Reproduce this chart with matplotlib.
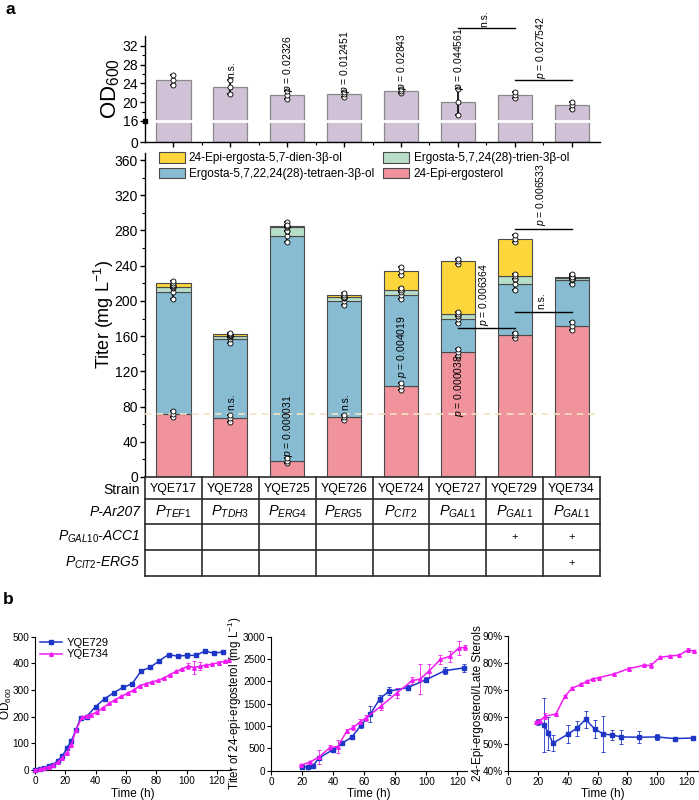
import numpy as np
import matplotlib
matplotlib.use('Agg')
import matplotlib.pyplot as plt
from matplotlib.lines import Line2D
from matplotlib.ticker import MultipleLocator, FixedLocator, PercentFormatter, NullFormatter

plt.rcParams['font.family'] = ['Liberation Sans', 'DejaVu Sans']
plt.rcParams['mathtext.fontset'] = 'custom'
plt.rcParams['mathtext.rm'] = 'Liberation Sans'
plt.rcParams['mathtext.it'] = 'Liberation Sans:italic'
plt.rcParams['mathtext.bf'] = 'Liberation Sans:bold'
plt.rcParams['axes.linewidth'] = 1.0

# ---------------- data (panel a) ----------------
strains = ['YQE717', 'YQE728', 'YQE725', 'YQE726', 'YQE724', 'YQE727', 'YQE729', 'YQE734']
promoters = ['TEF1', 'TDH3', 'ERG4', 'ERG5', 'CIT2', 'GAL1', 'GAL1', 'GAL1']
acc1 = ['', '', '', '', '', '', '+', '+']
erg5 = ['', '', '', '', '', '', '', '+']

od600 = [24.7, 23.2, 21.5, 21.7, 22.4, 20.0, 21.5, 19.3]
od600_err = [1.1, 1.5, 0.8, 0.5, 0.4, 2.8, 0.6, 0.7]
od_notes = ['', 'n.s.', 'p = 0.02326', 'p = 0.012451', 'p = 0.02843', 'p = 0.044561', '', '']

epi_ergosterol = [71.5, 66.6, 18.5, 67.8, 103.0, 141.6, 161.0, 171.5]
tetraen = [138.2, 89.8, 254.8, 131.7, 103.7, 37.4, 57.8, 52.2]
trien = [6.5, 3.6, 10.9, 4.5, 5.7, 6.0, 9.2, 1.9]
dien = [4.0, 2.8, 0.6, 3.0, 21.6, 60.0, 42.6, 1.9]
epi_ergosterol_err = [3, 4, 3, 3, 4, 4, 3, 4]
tetraen_err = [7, 4, 6, 4, 4, 4, 6, 5]
trien_err = [1, 1, 5, 1, 2, 2, 3, 1]
dien_err = [2, 1, 1, 2, 5, 3, 4, 3]

titer_notes = [(1, 'n.s.', 76), (2, 'p = 0.000031', 22.5), (3, 'n.s.', 76),
               (4, 'p = 0.004019', 112), (5, 'p = 0.000038', 68)]
titer_brackets = [(5, 6, 169, 'p = 0.006364'), (6, 7, 187.7, 'n.s.'), (6, 7, 281.6, 'p = 0.006533')]
od_brackets = [(5, 6, 35.9, 'n.s.'), (6, 7, 24.75, 'p = 0.027542')]

# ---------------- data (panel b) ----------------
od_t_729 = [0, 3, 6, 9, 12, 15, 18, 21, 24, 27, 30, 34, 40, 46, 52, 58, 64, 70, 76, 82, 88, 94, 100, 106, 112, 118, 124]
od_729 = [0, 4, 9, 14, 20, 35, 52, 82, 110, 150, 195, 200, 238, 268, 290, 310, 323, 372, 385, 410, 433, 427, 430, 430, 446, 438, 443]
od_err_729 = [0, 1, 1, 1, 1, 2, 2, 3, 3, 3, 3, 3, 3, 3, 3, 3, 3, 5, 5, 3, 3, 4, 10, 8, 5, 5, 6]
od_t_734 = [0, 3, 6, 9, 12, 15, 18, 21, 24, 27, 31, 34, 37, 41, 45, 49, 53, 57, 61, 65, 69, 73, 77, 81, 85, 89, 93, 97, 101, 105, 109, 113, 117, 121, 125, 128]
od_734 = [0, 3, 7, 12, 18, 30, 45, 65, 95, 150, 198, 203, 208, 218, 234, 250, 264, 276, 288, 300, 316, 324, 330, 336, 345, 358, 370, 379, 390, 384, 390, 393, 397, 403, 407, 411]
od_err_734 = [0, 1, 1, 1, 1, 2, 2, 3, 3, 3, 3, 3, 3, 3, 3, 3, 3, 3, 3, 3, 3, 3, 3, 3, 3, 3, 3, 5, 10, 25, 14, 5, 5, 5, 5, 5]

titer_t_729 = [20, 24, 27, 31, 40, 46, 52, 58, 64, 70, 76, 88, 100, 112, 124]
titer_729 = [80, 90, 110, 290, 470, 620, 750, 1020, 1270, 1610, 1780, 1860, 2040, 2240, 2300]
titer_err_729 = [10, 10, 10, 30, 40, 40, 30, 60, 180, 80, 90, 60, 60, 80, 90]
titer_t_734 = [19, 25, 31, 38, 43, 49, 53, 57, 61, 71, 81, 91, 96, 102, 109, 115, 121, 125]
titer_734 = [120, 190, 310, 520, 540, 900, 970, 1080, 1180, 1450, 1740, 2020, 2050, 2240, 2490, 2560, 2750, 2760]
titer_err_734 = [20, 30, 150, 50, 150, 30, 60, 80, 60, 100, 120, 80, 330, 150, 100, 120, 150, 50]

ratio_t_729 = [20, 24, 27, 30, 40, 46, 52, 58, 64, 70, 76, 88, 100, 112, 124]
ratio_729 = [58.0, 57.0, 53.8, 50.2, 53.5, 55.7, 59.0, 55.5, 53.6, 53.2, 52.5, 52.4, 52.5, 51.9, 52.1]
ratio_err_729 = [1, 10, 6, 3, 3.3, 2.8, 3, 3.3, 6.7, 2, 2.5, 2.3, 1.2, 0.5, 0.5]
ratio_t_734 = [18.5, 21, 25, 32, 38, 43, 49, 53, 57, 61, 71, 81, 91, 96, 102, 109, 115, 121, 125]
ratio_734 = [58.0, 58.5, 60.2, 61.0, 67.5, 70.6, 72.0, 73.1, 74.0, 74.5, 75.8, 77.8, 79.0, 79.0, 82.0, 82.5, 82.8, 84.8, 84.3]
ratio_err_734 = [0.5, 0.5, 1, 0.5, 0.5, 0.5, 0.5, 0.5, 0.5, 0.3, 0.3, 0.5, 0.5, 1, 0.5, 0.5, 0.5, 0.5, 0.3]

# ---------------- styling ----------------
C_YEL = '#FCD63A'
C_BLU = '#88BCD2'
C_GRN = '#B6DEC9'
C_PNK = '#F0939D'
C_OD = '#D0C1D6'
C_729 = '#1E36C8'
C_734 = '#F21CF2'

W, H = 699, 800
fig = plt.figure(figsize=(W / 100, H / 100), dpi=100)


def box(l, t, r, b):
    return [l / W, 1 - b / H, (r - l) / W, (b - t) / H]


def ptxt(s):
    if s.startswith('p'):
        return r'$\mathit{p}$' + s[1:]
    return s


n = len(strains)
x = np.arange(n)
XL = (-0.5, n - 0.5)

# ================= OD panel (broken axis) =================
ax1 = fig.add_axes(box(145, 36, 600, 142))
A = 0.28


def fwd(v):
    v = np.asarray(v, float)
    return np.where(v < 16, v * A, 16 * A + (v - 16))


def inv(t):
    t = np.asarray(t, float)
    return np.where(t < 16 * A, t / A, t - 16 * A + 16)


ax1.set_yscale('function', functions=(fwd, inv))
ax1.bar(x, od600, 0.6, color=C_OD, edgecolor='#8a8a8a', linewidth=0.9, zorder=2)
ax1.axhline(16, color='white', lw=2, zorder=3)
ax1.errorbar(x, od600, yerr=od600_err, fmt='none', ecolor='k', elinewidth=1.2,
             capsize=2.5, capthick=1.2, zorder=4)
od_a = np.array(od600)
od_e = np.array(od600_err)
for k in (-1, 0, 1):
    ax1.plot(x, od_a + k * od_e, 'o', ms=3.6, mfc='white', mec='k', mew=0.6, zorder=5,
             linestyle='none')
ax1.set_xlim(*XL)
ax1.set_ylim(0, 34.1)
ax1.yaxis.set_major_locator(FixedLocator([0, 16, 20, 24, 28, 32]))
ax1.yaxis.set_minor_locator(FixedLocator([18, 22, 26, 30]))
ax1.yaxis.set_minor_formatter(NullFormatter())
ax1.xaxis.set_major_locator(FixedLocator(x))
ax1.xaxis.set_minor_locator(FixedLocator(x[:-1] + 0.5))
ax1.set_xticklabels([])
ax1.tick_params(axis='both', which='major', direction='out', length=3.5, width=1,
                labelsize=10, pad=1.5)
ax1.tick_params(axis='both', which='minor', direction='out', length=2, width=0.8)
for s in ('top', 'right'):
    ax1.spines[s].set_visible(False)
ax1.plot([0], [16], marker='s', color='k', ms=3.5, transform=ax1.get_yaxis_transform(),
         clip_on=False, zorder=6)
ax1.set_ylabel('OD$_{600}$', fontsize=16)
ax1.yaxis.set_label_coords(-0.051, 0.5)
for i, s in enumerate(od_notes):
    if s:
        off = 0.35 if s == 'n.s.' else -0.2
        ax1.text(x[i] + 0.02, od600[i] + od600_err[i] + off, ptxt(s), rotation=90,
                 ha='center', va='bottom', fontsize=7.5, zorder=7, clip_on=False)
for i0, i1, yb, s in od_brackets:
    ax1.plot([x[i0], x[i1]], [yb, yb], color='k', lw=1.0, clip_on=False, zorder=6)
    ax1.text((x[i0] + x[i1]) / 2 - 0.03, yb + 0.15, ptxt(s), rotation=90, ha='center',
             va='bottom', fontsize=7.5, clip_on=False)

# ================= Stacked titer panel =================
ax2 = fig.add_axes(box(145, 153, 600, 477))
layers = [
    (epi_ergosterol, epi_ergosterol_err, C_PNK, '24-Epi-ergosterol'),
    (tetraen, tetraen_err, C_BLU, 'Ergosta-5,7,22,24(28)-tetraen-3\u03b2-ol'),
    (trien, trien_err, C_GRN, 'Ergosta-5,7,24(28)-trien-3\u03b2-ol'),
    (dien, dien_err, C_YEL, '24-Epi-ergosta-5,7-dien-3\u03b2-ol'),
]
bottoms = np.zeros(n)
handles = {}
for vals, errs, col, lab in layers:
    vals = np.array(vals)
    errs = np.array(errs)
    b = ax2.bar(x, vals, 0.6, bottom=bottoms, color=col, edgecolor='#4a4a4a',
                linewidth=0.8, label=lab, zorder=2)
    handles[lab] = b
    tops = bottoms + vals
    ax2.errorbar(x, tops, yerr=errs, fmt='none', ecolor='k', elinewidth=1.2,
                 capsize=2.5, capthick=1.2, zorder=4)
    for k in (-1, 0, 1):
        ax2.plot(x, tops + k * errs, 'o', ms=3.6, mfc='white', mec='k', mew=0.6,
                 zorder=5, linestyle='none')
    bottoms = tops
ax2.axhline(epi_ergosterol[0], color='#F3E3C3', lw=1.2, ls=(0, (4, 3)), zorder=3)
ax2.set_xlim(*XL)
ax2.set_ylim(0, 368)
ax2.yaxis.set_major_locator(MultipleLocator(40))
ax2.yaxis.set_minor_locator(MultipleLocator(20))
ax2.set_xticks([])
ax2.tick_params(axis='y', which='major', direction='out', length=3.5, width=1,
                labelsize=10, pad=1.5)
ax2.tick_params(axis='y', which='minor', direction='out', length=2, width=0.8)
for s in ('top', 'right', 'bottom'):
    ax2.spines[s].set_visible(False)
ax2.set_ylabel('Titer (mg L$^{-1}$)', fontsize=13)
ax2.yaxis.set_label_coords(-0.063, 0.5)
order = ['24-Epi-ergosta-5,7-dien-3\u03b2-ol', 'Ergosta-5,7,22,24(28)-tetraen-3\u03b2-ol',
         'Ergosta-5,7,24(28)-trien-3\u03b2-ol', '24-Epi-ergosterol']
ax2.legend([handles[k] for k in order], order, ncol=2, loc='upper left',
           bbox_to_anchor=(0.03, 1.003), frameon=False, fontsize=8.5, handlelength=2.2,
           handleheight=1.0, handletextpad=0.35, columnspacing=0.8, borderpad=0,
           borderaxespad=0, labelspacing=0.3)
for i, s, yv in titer_notes:
    ax2.text(x[i] + 0.02, yv, ptxt(s), rotation=90, ha='center', va='bottom',
             fontsize=7.5, zorder=7)
for i0, i1, yb, s in titer_brackets:
    ax2.plot([x[i0], x[i1]], [yb, yb], color='k', lw=1.0, zorder=6)
    ax2.text((x[i0] + x[i1]) / 2 - 0.04, yb + 3, ptxt(s), rotation=90, ha='center',
             va='bottom', fontsize=7.5, zorder=7)

# ================= Table =================
axt = fig.add_axes(box(145, 477, 600, 576))
axt.set_xlim(*XL)
axt.set_ylim(99, 0)
axt.axis('off')
row_edges = [0, 22.3, 47.3, 73, 98.7]
row_mid = [(row_edges[i] + row_edges[i + 1]) / 2 for i in range(4)]
for yv in row_edges:
    axt.plot(XL, [yv, yv], color='#2b2b2b', lw=1.2, clip_on=False, solid_capstyle='projecting')
for xv in np.arange(n + 1) - 0.5:
    axt.plot([xv, xv], [row_edges[0], row_edges[-1]], color='#2b2b2b', lw=1.2, clip_on=False)
row_labels = ['Strain', 'P-Ar207', r'$\mathit{P}_{\mathit{GAL10}}$-ACC1',
              r'$\mathit{P}_{\mathit{CIT2}}$-ERG5']
for r, lab in enumerate(row_labels):
    axt.text(-0.585, row_mid[r] + (2.0 if r == 0 else 0), lab, ha='right', va='center',
             fontsize=10, fontstyle='normal' if r == 0 else 'italic')
for i in range(n):
    axt.text(x[i], row_mid[0] + 0.8, strains[i], ha='center', va='center', fontsize=8.9)
    axt.text(x[i], row_mid[1], r'$\mathit{P}_{\mathit{%s}}$' % promoters[i], ha='center',
             va='center', fontsize=10.5)
    axt.text(x[i], row_mid[2], acc1[i], ha='center', va='center', fontsize=8)
    axt.text(x[i], row_mid[3], erg5[i], ha='center', va='center', fontsize=8)

fig.text(5 / W, 1 - 10 / H, 'a', fontsize=12.5, fontweight='bold', ha='left', va='center')
fig.text(3 / W, 1 - 599 / H, 'b', fontsize=12.5, fontweight='bold', ha='left', va='center')


# ================= Panel b =================
def style_small(ax):
    for s in ('top', 'right'):
        ax.spines[s].set_visible(False)
    for s in ('left', 'bottom'):
        ax.spines[s].set_linewidth(0.8)
    ax.tick_params(direction='out', length=3, width=0.8, labelsize=7.2, pad=1.5)
    ax.tick_params(axis='y', pad=1)
    ax.xaxis.set_major_locator(MultipleLocator(20))
    ax.set_xlabel('Time (h)', fontsize=8.5, labelpad=1)


def series(ax, t, v, e, col, mk, ms, lab):
    ax.errorbar(t, v, yerr=e, color=col, marker=mk, ms=ms, lw=1.1, elinewidth=0.6,
                capsize=1.5, capthick=0.6, label=lab, clip_on=False, zorder=3)


axb1 = fig.add_axes(box(35, 636.7, 230.7, 770))
series(axb1, od_t_729, od_729, od_err_729, C_729, 's', 2.4, 'YQE729')
series(axb1, od_t_734, od_734, od_err_734, C_734, '^', 2.6, 'YQE734')
axb1.set_xlim(0, 129)
axb1.set_ylim(0, 500)
axb1.yaxis.set_major_locator(MultipleLocator(100))
style_small(axb1)
axb1.set_ylabel('OD$_{600}$', fontsize=8.5)
axb1.yaxis.set_label_coords((14.5 - 35) / 195.7, 0.5)
leg_h = [Line2D([], [], color=C_729, marker='s', ms=2.4, lw=1.1),
         Line2D([], [], color=C_734, marker='^', ms=2.6, lw=1.1)]
axb1.legend(leg_h, ['YQE729', 'YQE734'], loc='upper left', bbox_to_anchor=(0.02, 1.0),
            frameon=False, fontsize=8, handlelength=2.0, handletextpad=0.4,
            labelspacing=0.15, borderpad=0.1, borderaxespad=0)

axb2 = fig.add_axes(box(271, 636.7, 466.7, 770.7))
series(axb2, titer_t_729, titer_729, titer_err_729, C_729, 's', 2.4, 'YQE729')
series(axb2, titer_t_734, titer_734, titer_err_734, C_734, '^', 2.6, 'YQE734')
axb2.set_xlim(0, 126)
axb2.set_ylim(0, 3000)
axb2.yaxis.set_major_locator(MultipleLocator(500))
style_small(axb2)
axb2.set_ylabel('Titer of 24-epi-ergosterol (mg L$^{-1}$)', fontsize=8.3)
axb2.yaxis.set_label_coords((244 - 271) / 195.7, 0.5)

axb3 = fig.add_axes(box(508.3, 635.7, 698, 770.7))
series(axb3, ratio_t_729, ratio_729, ratio_err_729, C_729, 's', 2.4, 'YQE729')
series(axb3, ratio_t_734, ratio_734, ratio_err_734, C_734, '^', 2.6, 'YQE734')
axb3.set_xlim(0, 127.6)
axb3.set_ylim(40, 90)
axb3.yaxis.set_major_locator(MultipleLocator(10))
axb3.yaxis.set_major_formatter(PercentFormatter(xmax=100, decimals=0))
style_small(axb3)
axb3.set_ylabel('24-Epi-ergosterol/Late Sterols', fontsize=8.5)
axb3.yaxis.set_label_coords((483.5 - 508.3) / 189.7, 0.5)

fig.savefig('out.png', dpi=100)
